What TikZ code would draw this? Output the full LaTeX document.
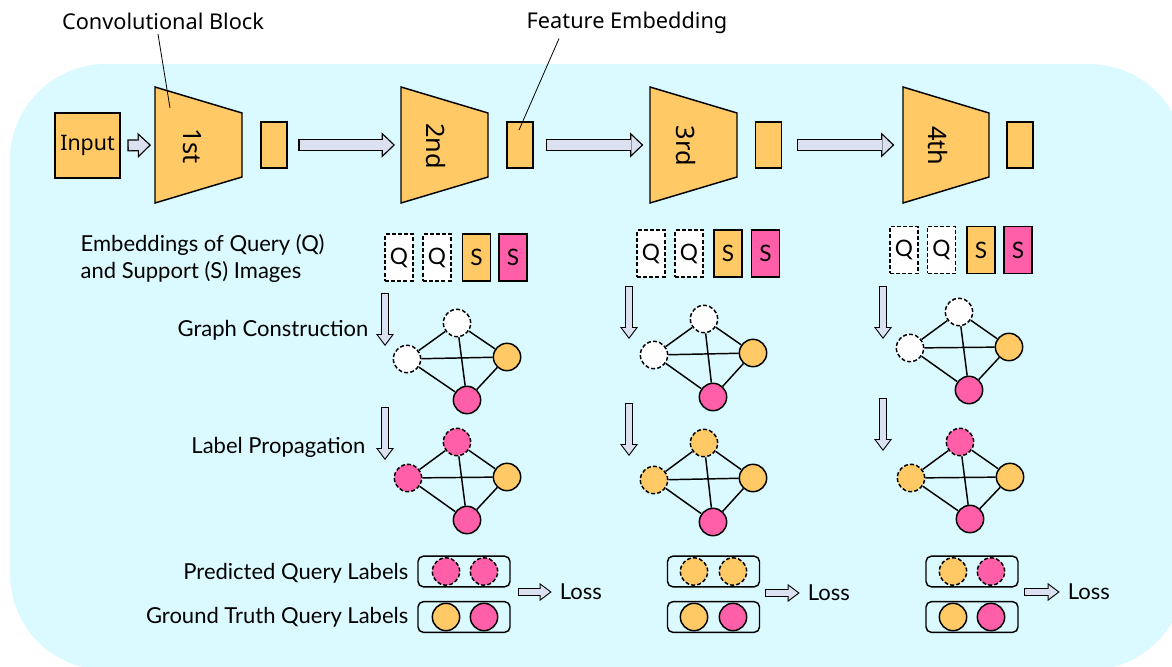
\documentclass[tikz,border=0pt]{standalone}
\usepackage{fontspec}
\setmainfont{Lato}
\newfontfamily\yahei{Noto Sans}
\usetikzlibrary{arrows.meta}

\definecolor{bgcyan}{HTML}{DBFAFF}
\definecolor{blockorange}{HTML}{FFC965}
\definecolor{labelpink}{HTML}{FF5FA8}
\definecolor{arrowgrey}{HTML}{DCE1F2}

\tikzset{
  convbox/.style={draw, line width=1.1pt, fill=blockorange},
  featbox/.style={convbox, minimum width=19.5pt, minimum height=34.5pt, inner sep=0pt},
  embbox/.style={draw, line width=1.1pt, minimum width=21pt, minimum height=35pt, inner sep=0pt, font=\fontsize{17}{19}\selectfont},
  querydash/.style={dash pattern=on 3pt off 1.6pt},
  embq/.style={embbox, querydash, fill=white},
  embs/.style={embbox, fill=blockorange},
  embp/.style={embbox, fill=labelpink},
  gnode/.style={circle, draw, line width=1.1pt, minimum size=20.5pt, inner sep=0pt},
  qwhite/.style={gnode, querydash, fill=white},
  qorange/.style={gnode, querydash, fill=blockorange},
  qpink/.style={gnode, querydash, fill=labelpink},
  sorange/.style={gnode, fill=blockorange},
  spink/.style={gnode, fill=labelpink},
  pill/.style={draw, line width=1.1pt, rounded corners=4pt, minimum width=69pt, minimum height=23pt},
  bigout/.style={draw=black, line width=9pt, -{Triangle[length=10pt, width=19pt, line width=0pt]}},
  bigin/.style={draw=arrowgrey, line width=7pt, -{Triangle[length=7.5pt, width=14.3pt, line width=0pt]}},
  smallout/.style={draw=black, line width=6pt, -{Triangle[length=9pt, width=13.5pt, line width=0pt]}},
  smallin/.style={draw=arrowgrey, line width=4.4pt, -{Triangle[length=6.9pt, width=10.3pt, line width=0pt]}},
}

% flecha gruesa: desde, hasta, recorte inicio, recorte final
\newcommand{\bigarrow}[4]{%
  \draw[bigout, shorten <=#3, shorten >=#4] (#1) -- (#2);
  \draw[bigin, shorten <=#3+1pt, shorten >=#4+1.45pt] (#1) -- (#2);}
\newcommand{\smallarrow}[4]{%
  \draw[smallout, shorten <=#3, shorten >=#4] (#1) -- (#2);
  \draw[smallin, shorten <=#3+0.8pt, shorten >=#4+1.33pt] (#1) -- (#2);}
% grafo completo de cuatro nodos
\newcommand{\kfour}[4]{%
  \draw[line width=1.1pt] (#1) -- (#2) (#1) -- (#3) (#1) -- (#4)
    (#2) -- (#3) (#2) -- (#4) (#3) -- (#4);}

\begin{document}
\begin{tikzpicture}[x=0.75pt, y=-0.75pt, font=\fontsize{16.5}{19}\selectfont]
    \useasboundingbox (0,0) rectangle (1172,667);

    % Fondo
    \fill[bgcyan, rounded corners=72pt] (10,64) rectangle (1185,670);

    % Entrada
    \node[convbox, minimum size=48.75pt, inner sep=0pt, font=\yahei\fontsize{16}{18}\selectfont] (input) at (87.5,145.5) {Input};

    % Bloques convolucionales
    \draw[convbox] (155,87) -- (242,113) -- (242,177) -- (155,203) -- cycle;
    \draw[convbox] (401,87) -- (488,113) -- (488,177) -- (401,203) -- cycle;
    \draw[convbox] (650,87) -- (737,113) -- (737,177) -- (650,203) -- cycle;
    \draw[convbox] (903,87) -- (989,113) -- (989,177) -- (903,203) -- cycle;
    \coordinate (b1w) at (155,145);
    \coordinate (b2w) at (401,145);
    \coordinate (b3w) at (650,145);
    \coordinate (b4w) at (903,145);
    \node[rotate=-90, font=\yahei\fontsize{19}{21}\selectfont] (b1) at (192,146) {1st};
    \node[rotate=-90, font=\yahei\fontsize{19}{21}\selectfont] (b2) at (436,146) {2nd};
    \node[rotate=-90, font=\yahei\fontsize{19}{21}\selectfont] (b3) at (686,146) {3rd};
    \node[rotate=-90, font=\yahei\fontsize{19}{21}\selectfont] (b4) at (938,146) {4th};

    % Embeddings
    \node[featbox] (f1) at (274,145) {};
    \node[featbox] (f2) at (520,145) {};
    \node[featbox] (f3) at (768.5,145) {};
    \node[featbox] (f4) at (1020,145) {};

    \bigarrow{input.east}{b1w}{5pt}{3pt}
    \bigarrow{f1.east}{b2w}{8pt}{4.5pt}
    \bigarrow{f2.east}{b3w}{9pt}{5pt}
    \bigarrow{f3.east}{b4w}{11pt}{6.5pt}

    % Leyendas de arriba
    \node[font=\yahei\fontsize{16.3}{18}\selectfont] (conv) at (163,21) {Convolutional Block};
    \coordinate (convpt) at (170,108);
    \draw[line width=0.6pt] ([xshift=-3.75pt]conv.south) -- (convpt);
    \node[font=\yahei\fontsize{16.3}{18}\selectfont] (feat) at (627,23) {Feature Embedding};
    \coordinate (featpt) at (519,130);
    \draw[line width=0.6pt] ([xshift=-51pt]feat.south) -- (featpt);

    % Textos de la izquierda
    \node[anchor=west, align=left, font=\fontsize{16.5}{20}\selectfont] (embtxt) at (76,258.5) {Embeddings of Query (Q)\\and Support (S) Images};
    \node[anchor=east] (gctxt) at (373,330) {Graph Construction};
    \node[anchor=east] (lptxt) at (370,447) {Label Propagation};
    \node[anchor=east] (predtxt) at (413,573) {Predicted Query Labels};
    \node[anchor=east] (gttxt) at (413,617) {Ground Truth Query Labels};

    % Columna 1
    \node[embq] (q11) at (399,257.5) {Q};
    \node[embq] (q12) at (437,257.5) {Q};
    \node[embs] (s11) at (476.5,257.5) {S};
    \node[embp] (s12) at (513,257.5) {S};
    \coordinate (d11s) at (385,293);
    \coordinate (d11e) at (385,346);
    \smallarrow{d11s}{d11e}{0pt}{0pt}
    \node[qwhite] (g11t) at (457,323) {};
    \node[qwhite] (g11l) at (407,359) {};
    \node[sorange] (g11r) at (507,357) {};
    \node[spink] (g11b) at (467,400) {};
    \kfour{g11t}{g11l}{g11r}{g11b}
    \coordinate (d12s) at (385,407);
    \coordinate (d12e) at (385,460);
    \smallarrow{d12s}{d12e}{0pt}{0pt}
    \node[qpink] (g12t) at (457,442) {};
    \node[qpink] (g12l) at (408,478) {};
    \node[sorange] (g12r) at (507,477) {};
    \node[spink] (g12b) at (467,520) {};
    \kfour{g12t}{g12l}{g12r}{g12b}
    \node[pill] (p1) at (464,571.5) {};
    \node[qpink] (p1a) at (446,571.5) {};
    \node[qpink] (p1b) at (484,571.5) {};
    \node[pill] (t1) at (464,617) {};
    \node[sorange] (t1a) at (446,617) {};
    \node[spink] (t1b) at (484,617) {};
    \node[anchor=west, inner sep=2pt, font=\fontsize{16.5}{19}\selectfont] (loss1) at (557,592) {Loss};
    \coordinate (l1s) at (518,592);
    \smallarrow{l1s}{loss1.west}{0pt}{4pt}

    % Columna 2
    \node[embq] (q21) at (651,253.5) {Q};
    \node[embq] (q22) at (689,253.5) {Q};
    \node[embs] (s21) at (728,253.5) {S};
    \node[embp] (s22) at (765.5,253.5) {S};
    \coordinate (d21s) at (629,286);
    \coordinate (d21e) at (629,339);
    \smallarrow{d21s}{d21e}{0pt}{0pt}
    \node[qwhite] (g21t) at (704,319) {};
    \node[qwhite] (g21l) at (654,355) {};
    \node[sorange] (g21r) at (753,353) {};
    \node[spink] (g21b) at (713,397) {};
    \kfour{g21t}{g21l}{g21r}{g21b}
    \coordinate (d22s) at (629,403);
    \coordinate (d22e) at (629,456);
    \smallarrow{d22s}{d22e}{0pt}{0pt}
    \node[qorange] (g22t) at (704,443) {};
    \node[qorange] (g22l) at (654,480) {};
    \node[sorange] (g22r) at (753,478) {};
    \node[spink] (g22b) at (713,522) {};
    \kfour{g22t}{g22l}{g22r}{g22b}
    \node[pill] (p2) at (713.5,571.5) {};
    \node[qorange] (p2a) at (694,571.5) {};
    \node[qorange] (p2b) at (733,571.5) {};
    \node[pill] (t2) at (713.5,617) {};
    \node[sorange] (t2a) at (694,617) {};
    \node[spink] (t2b) at (733,617) {};
    \node[anchor=west, inner sep=2pt, font=\fontsize{16.5}{19}\selectfont] (loss2) at (805,593) {Loss};
    \coordinate (l2s) at (765,593);
    \smallarrow{l2s}{loss2.west}{0pt}{4pt}

    % Columna 3
    \node[embq] (q31) at (904,250) {Q};
    \node[embq] (q32) at (941.5,250) {Q};
    \node[embs] (s31) at (981,250) {S};
    \node[embp] (s32) at (1018,250) {S};
    \coordinate (d31s) at (883,286);
    \coordinate (d31e) at (883,339);
    \smallarrow{d31s}{d31e}{0pt}{0pt}
    \node[qwhite] (g31t) at (959,312) {};
    \node[qwhite] (g31l) at (910,348) {};
    \node[sorange] (g31r) at (1009,347) {};
    \node[spink] (g31b) at (969,390) {};
    \kfour{g31t}{g31l}{g31r}{g31b}
    \coordinate (d32s) at (883,398);
    \coordinate (d32e) at (883,451);
    \smallarrow{d32s}{d32e}{0pt}{0pt}
    \node[qpink] (g32t) at (960,442) {};
    \node[qorange] (g32l) at (911,478) {};
    \node[sorange] (g32r) at (1010,477) {};
    \node[spink] (g32b) at (970,519) {};
    \kfour{g32t}{g32l}{g32r}{g32b}
    \node[pill] (p3) at (972,571.5) {};
    \node[qorange] (p3a) at (953,571.5) {};
    \node[qpink] (p3b) at (991,571.5) {};
    \node[pill] (t3) at (972,617) {};
    \node[sorange] (t3a) at (953,617) {};
    \node[spink] (t3b) at (991,617) {};
    \node[anchor=west, inner sep=2pt, font=\fontsize{16.5}{19}\selectfont] (loss3) at (1065,592) {Loss};
    \coordinate (l3s) at (1024,592);
    \smallarrow{l3s}{loss3.west}{0pt}{4pt}
\end{tikzpicture}
\end{document}
